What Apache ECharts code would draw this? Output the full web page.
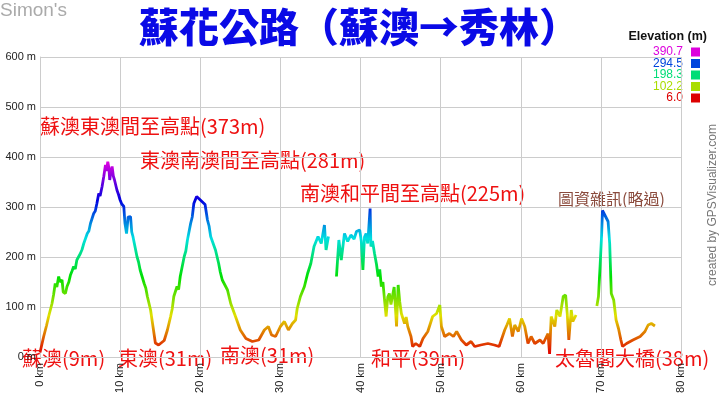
<!DOCTYPE html>
<html>
<head>
<meta charset="utf-8">
<script src="https://cdn.jsdelivr.net/npm/echarts@6/dist/echarts.min.js"></script>
<style>
  html, body { margin: 0; padding: 0; background: #fff; }
  #chart { width: 720px; height: 397px; }
</style>
</head>
<body>
<div id="chart"></div>
<script>
// distance (km) along the road, null rows are breaks in the track
var distKm = [
  0, 0.46, 0.8, 1.08, 1.5, 1.7, 1.9, 2.1, 2.33, 2.5,
  2.75, 2.9, 3.17, 3.37, 3.6, 3.8, 4.0, 4.2, 4.4, 4.6,
  5.04, 5.25, 5.46, 5.9, 6.1, 6.3, 6.7, 6.9, 7.1, 7.33,
  7.5, 7.75, 7.96, 8.17, 8.3, 8.46, 8.6, 8.7, 8.85, 9.0,
  9.15, 9.3, 9.6, 9.8, 10.0, 10.2, 10.46, 10.6, 10.8, 11.0,
  11.3, 11.45, 11.6, 12.1, 12.3, 12.5, 13.0, 13.2, 13.4, 13.8,
  14.1, 14.4, 14.8, 15.5, 15.9, 16.3, 16.5, 16.7, 17.1, 17.3,
  17.5, 18.0, 18.2, 18.4, 18.8, 19.0, 19.2, 19.55, 20.6, 20.9,
  21.1, 21.3, 21.9, 22.3, 22.5, 22.75, 23.4, 23.8, 24.4, 25.0,
  25.7, 26.5, 27.3, 28.0, 28.5, 28.9, 29.4, 30.0, 30.5, 31.0,
  31.5, 31.9, 32.1, 32.5, 33.0, 33.4, 33.8, 34.2, 34.7, 35.1,
  35.5, 35.7, 36.0, 36.5,
  37.0, 37.3, 37.6, 38.0, 38.4, 38.8, 39.2, 39.5, 39.9, 40.1,
  40.3, 40.5, 40.7, 40.9, 41.2, 41.3, 41.5, 41.75, 42.0, 42.2,
  42.4, 42.6, 42.8, 43.0, 43.2, 43.4, 43.6, 43.8, 44.0, 44.2,
  44.5, 44.7, 44.9, 45.1, 45.5, 45.7, 45.9, 46.3, 46.5, 46.9,
  47.4, 47.8, 48.4, 49.0, 49.5, 49.9, 50.1, 50.5, 51.1, 51.6,
  52.0, 52.6, 53.2, 53.8, 54.25, 55.0, 55.9, 56.7, 57.3, 58.0,
  58.3, 58.6, 58.96, 59.25, 59.7, 60.1, 60.5, 60.9, 61.3, 61.75,
  62.4, 62.8, 63.4, 63.6, 63.8, 64.25, 64.5, 64.9, 65.3, 65.6,
  65.8, 66.0, 66.3, 66.5, 66.9, 68.0,
  69.5, 69.7, 69.9, 70.1, 70.2, 70.9, 71.1, 71.3, 71.6, 71.9,
  72.2, 72.5, 72.7, 73.2, 74.0, 74.9, 75.5, 75.9, 76.3, 76.75
];
// elevation (m)
var elevM = [
  9, 41, 62, 81, 107, 125, 147, 140, 161, 150,
  154, 130, 127, 141, 150, 164, 172, 181, 176, 194,
  207, 215, 227, 247, 252, 267, 287, 292, 307, 327,
  322, 341, 361, 384, 372, 390.7, 378, 354, 370, 381,
  362, 354, 334, 325, 314, 306, 301, 268, 247, 280,
  281, 250, 241, 201, 190, 174, 147, 138, 121, 94,
  61, 28, 24, 33, 54, 81, 96, 121, 141, 135,
  161, 201, 212, 234, 267, 280, 307, 321, 305, 274,
  262, 241, 214, 187, 170, 154, 134, 107, 81, 54,
  37, 31, 34, 54, 61, 44, 41, 61, 71, 54,
  67, 74, 97, 121, 141, 167, 187, 221, 241, 227,
  264, 214, 241, null,
  161, 234, 194, 247, 231, 244, 236, 251, 254, 232,
  174, 240, 247, 227, 297, 221, 232, 207, 185, 161,
  175, 141, 150, 114, 81, 120, 127, 105, 101, 140,
  61, 144, 110, 87, 67, 80, 61, 41, 21, 27,
  21, 37, 51, 81, 87, 104, 61, 41, 47, 41,
  51, 34, 24, 31, 21, 24, 27, 24, 21, 54,
  65, 77, 41, 64, 51, 77, 61, 27, 41, 27,
  34, 27, 47, 6, 81, 61, 94, 81, 121, 124,
  87, 34, 94, 71, 84, null,
  102, 121, 181, 247, 293, 271, 227, 127, 114, 74,
  57, 34, 21, 27, 34, 41, 51, 64, 67, 62
];

var legendValues = [390.7, 294.5, 198.3, 102.2, 6.0];
var legendColors = ['#dd00dd', '#0044dd', '#00dd77', '#aadd00', '#dd0000'];

// hue ramp red -> magenta used by the profile
var rampColors = ['#e00000', '#e07000', '#e0e000', '#70e000', '#00e000', '#00e070',
                  '#00e0e0', '#0070e0', '#0000e0', '#7000e0', '#e000e0'];

var peakNotes = [
  { text: '蘇澳東澳間至高點(373m)', x: 40, y: 126 },
  { text: '東澳南澳間至高點(281m)', x: 140, y: 160 },
  { text: '南澳和平間至高點(225m)', x: 300, y: 193 }
];
var townNotes = [
  { text: '蘇澳(9m)', x: 22, y: 358 },
  { text: '東澳(31m)', x: 118, y: 358 },
  { text: '南澳(31m)', x: 220, y: 355 },
  { text: '和平(39m)', x: 371, y: 358 },
  { text: '太魯閣大橋(38m)', x: 555, y: 358 }
];

var points = distKm.map(function (d, i) {
  return [d, elevM[i]];
});

var cjk = '"Noto Sans CJK TC", sans-serif';
var sans = '"Liberation Sans", Arial, sans-serif';
var graphics = [];

graphics.push({
  type: 'text', left: 0, top: 1,
  style: { text: "Simon's", fill: '#aaa', font: '19px ' + sans }
});
graphics.push({
  type: 'text', x: 707, y: 37,
  style: { text: 'Elevation (m)', fill: '#111', align: 'right', verticalAlign: 'middle',
           font: 'bold 12.5px ' + sans }
});
legendValues.forEach(function (v, i) {
  var yy = 52 + i * 11.5;
  graphics.push({
    type: 'text', x: 683, y: yy,
    style: { text: v.toFixed(1), fill: legendColors[i], align: 'right', verticalAlign: 'middle',
             font: '12px ' + sans }
  });
  graphics.push({
    type: 'rect', shape: { x: 691, y: yy - 4.5, width: 9, height: 9 },
    style: { fill: legendColors[i] }
  });
});
peakNotes.concat(townNotes).forEach(function (n) {
  graphics.push({
    type: 'text', x: n.x, y: n.y,
    style: { text: n.text, fill: '#ee1111', verticalAlign: 'middle', font: '20px ' + cjk }
  });
});
graphics.push({
  type: 'text', x: 558, y: 199,
  style: { text: '圖資雜訊(略過)', fill: '#8a4a3c', verticalAlign: 'middle', font: '16px ' + cjk }
});
graphics.push({
  type: 'text', x: 713, y: 205, rotation: Math.PI / 2,
  style: { text: 'created by GPSVisualizer.com', fill: '#777', align: 'center', verticalAlign: 'middle',
           font: '12px ' + sans }
});

var chart = echarts.init(document.getElementById('chart'));
chart.setOption({
  animation: false,
  title: {
    text: '蘇花公路（蘇澳→秀林）',
    left: 134, top: 2,
    textStyle: { color: '#0a0ae6', fontSize: 40, fontWeight: 900, fontFamily: cjk }
  },
  grid: { left: 40, right: 39, top: 57, bottom: 40, containLabel: false, outerBoundsMode: 'none' },
  xAxis: {
    type: 'value', min: 0, max: 80, interval: 10,
    name: 'Distance', nameLocation: 'middle', nameGap: 30,
    nameTextStyle: { color: '#111', fontSize: 14, fontFamily: sans },
    axisLine: { lineStyle: { color: '#ccc' } },
    axisTick: { show: false },
    splitLine: { lineStyle: { color: '#ccc' } },
    axisLabel: { formatter: '{value} km', rotate: 90, color: '#222', fontSize: 11, margin: 6,
                 fontFamily: sans }
  },
  yAxis: {
    type: 'value', min: 0, max: 600, interval: 100,
    name: 'Elevation', nameLocation: 'middle', nameGap: 30,
    nameTextStyle: { color: '#111', fontSize: 14, fontFamily: sans },
    axisLine: { show: true, lineStyle: { color: '#ccc' } },
    axisTick: { show: false },
    splitLine: { lineStyle: { color: '#ccc' } },
    axisLabel: { formatter: '{value} m', color: '#222', fontSize: 11, margin: 4,
                 fontFamily: sans }
  },
  visualMap: {
    show: false, type: 'continuous', dimension: 1,
    min: 6, max: 390.7, seriesIndex: 0,
    inRange: { color: rampColors }
  },
  series: [{
    type: 'line',
    data: points,
    showSymbol: false,
    connectNulls: false,
    lineStyle: { width: 2.8 }
  }],
  graphic: graphics
});
</script>
</body>
</html>
